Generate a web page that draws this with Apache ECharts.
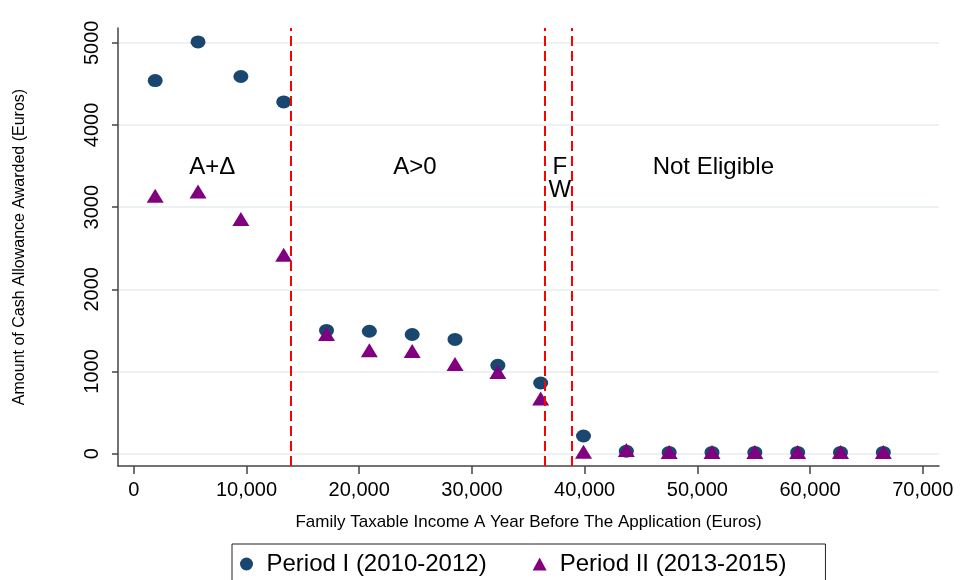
<!DOCTYPE html>
<html>
<head>
<meta charset="utf-8">
<script src="https://cdn.jsdelivr.net/npm/echarts@6/dist/echarts.min.js"></script>
<style>
  html, body { margin: 0; padding: 0; background: #fff; }
  #chart { width: 965px; height: 580px; }
</style>
</head>
<body>
<div id="chart"></div>
<script>
  // income bins (euros), one point per bin
  const incomeBins = [1900, 5700, 9500, 13300, 17100, 20900, 24700, 28500, 32300,
    36100, 39900, 43700, 47500, 51300, 55100, 58900, 62700, 66500];
  const periodOne = [4540, 5010, 4590, 4280, 1500, 1490, 1450, 1390, 1075,
    860, 215, 30, 15, 15, 15, 15, 15, 15];
  const periodTwo = [3140, 3190, 2855, 2420, 1455, 1260, 1250, 1090, 995,
    670, 24, 44, 20, 20, 20, 20, 20, 20];

  // eligibility thresholds
  const cutoffs = [13900, 36450, 38870];

  // region annotations
  const regionNames = ['A+Δ', 'A>0', 'F\nW', 'Not Eligible'];
  const regionX = [6960, 24950, 37810, 51420];
  const regionY = [3480, 3480, 3340, 3480];

  const yTicks = [0, 1000, 2000, 3000, 4000, 5000];
  const xTicks = [0, 10000, 20000, 30000, 40000, 50000, 60000, 70000];

  const font = "'Liberation Sans', Arial, Helvetica, sans-serif";
  const axisColor = '#444';

  const chart = echarts.init(document.getElementById('chart'));

  const option = {
    backgroundColor: '#fff',
    animation: false,
    textStyle: { fontFamily: font, color: '#000' },
    grid: { left: 118, right: 26, top: 28, bottom: 114 },
    legend: {
      left: 232,
      top: 544,
      padding: [8, 39, 20, 8],
      itemGap: 46,
      itemWidth: 14,
      itemHeight: 13,
      borderColor: '#222',
      borderWidth: 1,
      selectedMode: false,
      textStyle: { fontFamily: font, fontSize: 24, color: '#000', padding: [0, 0, 0, 8] },
      data: [
        { name: 'Period I (2010-2012)', icon: 'circle' },
        { name: 'Period II (2013-2015)', icon: 'triangle' }
      ]
    },
    xAxis: {
      type: 'value',
      min: -1400,
      max: 71440,
      name: 'Family Taxable Income A Year Before The Application (Euros)',
      nameLocation: 'middle',
      nameGap: 48,
      nameTextStyle: { fontFamily: font, fontSize: 17, color: '#000' },
      axisLine: { show: true, onZero: false, lineStyle: { color: axisColor, width: 1.5 } },
      axisTick: { show: true, length: 8, customValues: xTicks, lineStyle: { color: axisColor, width: 1.5 } },
      axisLabel: {
        customValues: xTicks,
        margin: 14,
        fontFamily: font,
        fontSize: 20,
        color: '#000',
        formatter: v => v.toLocaleString('en-US')
      },
      splitLine: { show: false }
    },
    yAxis: {
      type: 'value',
      min: -150,
      max: 5180,
      name: 'Amount of Cash Allowance Awarded (Euros)',
      nameLocation: 'middle',
      nameGap: 90,
      nameTextStyle: { fontFamily: font, fontSize: 16, color: '#000' },
      axisLine: { show: true, onZero: false, lineStyle: { color: axisColor, width: 1.5 } },
      axisTick: { show: true, length: 6, customValues: yTicks, lineStyle: { color: axisColor, width: 1.5 } },
      axisLabel: {
        customValues: yTicks,
        rotate: 90,
        margin: 16,
        fontFamily: font,
        fontSize: 20,
        color: '#000',
        formatter: v => String(v)
      },
      splitLine: { show: true, lineStyle: { color: '#e6edf1', width: 1.5 } }
    },
    series: [
      {
        name: 'Period I (2010-2012)',
        type: 'scatter',
        symbol: 'circle',
        symbolSize: [15, 13],
        itemStyle: { color: '#1a476f', opacity: 1 },
        data: incomeBins.map((x, i) => [x, periodOne[i]]),
        z: 3,
        markLine: {
          silent: true,
          symbol: ['none', 'none'],
          label: { show: false },
          lineStyle: { color: '#ff0000', width: 2, type: [10, 5] },
          data: cutoffs.map(c => ({ xAxis: c }))
        }
      },
      {
        name: 'Period II (2013-2015)',
        type: 'scatter',
        symbol: 'triangle',
        symbolSize: [17, 14],
        itemStyle: { color: '#800080', opacity: 1 },
        data: incomeBins.map((x, i) => [x, periodTwo[i]]),
        z: 4
      },
      {
        name: 'regions',
        type: 'scatter',
        symbolSize: 1,
        silent: true,
        itemStyle: { color: 'rgba(0,0,0,0)', opacity: 1 },
        label: {
          show: true,
          position: 'inside',
          fontFamily: font,
          fontSize: 24,
          lineHeight: 23,
          color: '#000',
          textBorderWidth: 0,
          formatter: p => p.name
        },
        data: regionNames.map((n, i) => ({ name: n, value: [regionX[i], regionY[i]] })),
        z: 5
      }
    ]
  };

  chart.setOption(option);
</script>
</body>
</html>
